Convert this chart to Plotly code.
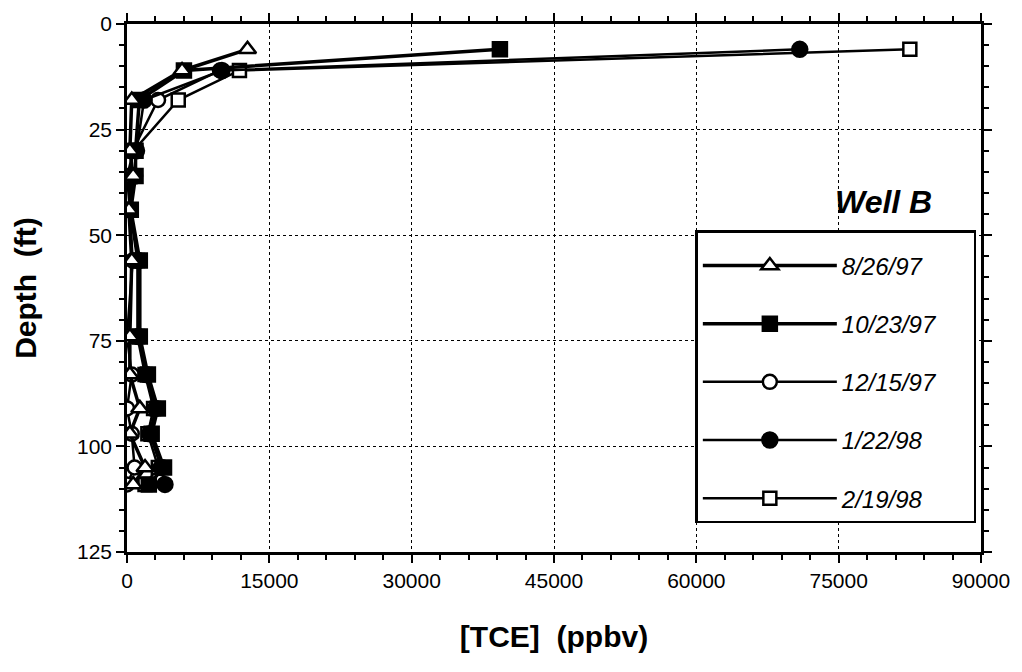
import plotly.graph_objects as go

depths = [6, 11, 18, 30, 36, 44, 56, 74, 83, 91, 97, 105, 109]
depths_121597 = [11, 18, 30, 36, 44, 56, 74, 83, 91, 97, 105, 109]

tce_082697 = [12700, 5800, 500, 300, 650, 200, 500, 300, 300, 1350, 300, 1900, 650]
tce_102397 = [39300, 6000, 1300, 900, 900, 400, 1350, 1350, 2200, 3250, 2600, 3900, 2300]
tce_121597 = [9800, 3270, 600, 300, 300, 600, 0, 500, 0, 500, 800, 0]
tce_012298 = [70900, 10000, 1800, 1000, 800, 350, 1200, 1200, 2000, 3000, 2400, 3600, 4000]
tce_021998 = [82500, 11850, 5400, 700, 0, 300, 1100, 1100, 1900, 2800, 2200, 3300, 1900]

series_names = ["8/26/97", "10/23/97", "12/15/97", "1/22/98", "2/19/98"]

FONT = "Liberation Sans, Arial, sans-serif"
PAD = "\u00a0" * 5

fig = go.Figure()

# drawing order (bottom -> top); legend order set by legendrank
traces = [
    (series_names[4], tce_021998, depths, dict(symbol="square", color="white", size=13, lw=2.5), 5),
    (series_names[2], tce_121597, depths_121597, dict(symbol="circle", color="white", size=14, lw=2.5), 3),
    (series_names[3], tce_012298, depths, dict(symbol="circle", color="black", size=15, lw=2.5), 4),
    (series_names[1], tce_102397, depths, dict(symbol="square", color="black", size=14, lw=3.5), 2),
    (series_names[0], tce_082697, depths, dict(symbol="triangle-up", color="white", size=15, lw=3.5), 1),
]

for name, x, y, st, rank in traces:
    fig.add_trace(go.Scatter(
        x=x, y=y, name=name + PAD, mode="lines+markers",
        legendgroup=f"g{rank}", legendrank=rank,
        line=dict(color="black", width=st["lw"]),
        marker=dict(symbol=st["symbol"], size=st["size"], color=st["color"],
                    line=dict(color="black", width=2.5)),
    ))

axis_common = dict(
    showline=True, linecolor="black", linewidth=2.5, mirror="allticks",
    ticks="outside", ticklen=8, tickwidth=2, tickcolor="black",
    showgrid=True, gridcolor="black", gridwidth=1, griddash="dot",
    zeroline=False,
    tickfont=dict(family=FONT, size=21, color="black"),
)

fig.update_xaxes(
    range=[0, 90000], tick0=0, dtick=15000, tickformat="d",
    minor=dict(dtick=3000, ticks="outside", ticklen=5, tickwidth=1.5, tickcolor="black", showgrid=False),
    title=dict(text="<b>[TCE]  (ppbv)</b>", font=dict(family=FONT, size=30, color="black"), standoff=36),
    **axis_common,
)
fig.update_yaxes(
    range=[125, 0], tick0=0, dtick=25,
    minor=dict(dtick=5, ticks="outside", ticklen=5, tickwidth=1.5, tickcolor="black", showgrid=False),
    title=dict(text="<b>Depth  (ft)</b>", font=dict(family=FONT, size=30, color="black"), standoff=32),
    **axis_common,
)

fig.add_annotation(
    xref="paper", yref="paper", x=0.886, y=0.625, xanchor="center", yanchor="bottom",
    text="<b><i>Well B</i></b>", showarrow=False,
    font=dict(family=FONT, size=32, color="black"),
)

fig.update_layout(
    width=1022, height=672,
    margin=dict(l=127, r=37, t=20, b=120),
    plot_bgcolor="white", paper_bgcolor="white",
    showlegend=True,
    legend=dict(
        x=0.6655, y=0.609, xanchor="left", yanchor="top",
        bgcolor="white", bordercolor="black", borderwidth=2.5,
        font=dict(family=FONT, size=24, color="black", style="italic"),
        itemwidth=134, tracegroupgap=24,
        traceorder="grouped",
        title=dict(text="\u00a0", font=dict(size=8)),
    ),
)

fig.write_html("out.html")
